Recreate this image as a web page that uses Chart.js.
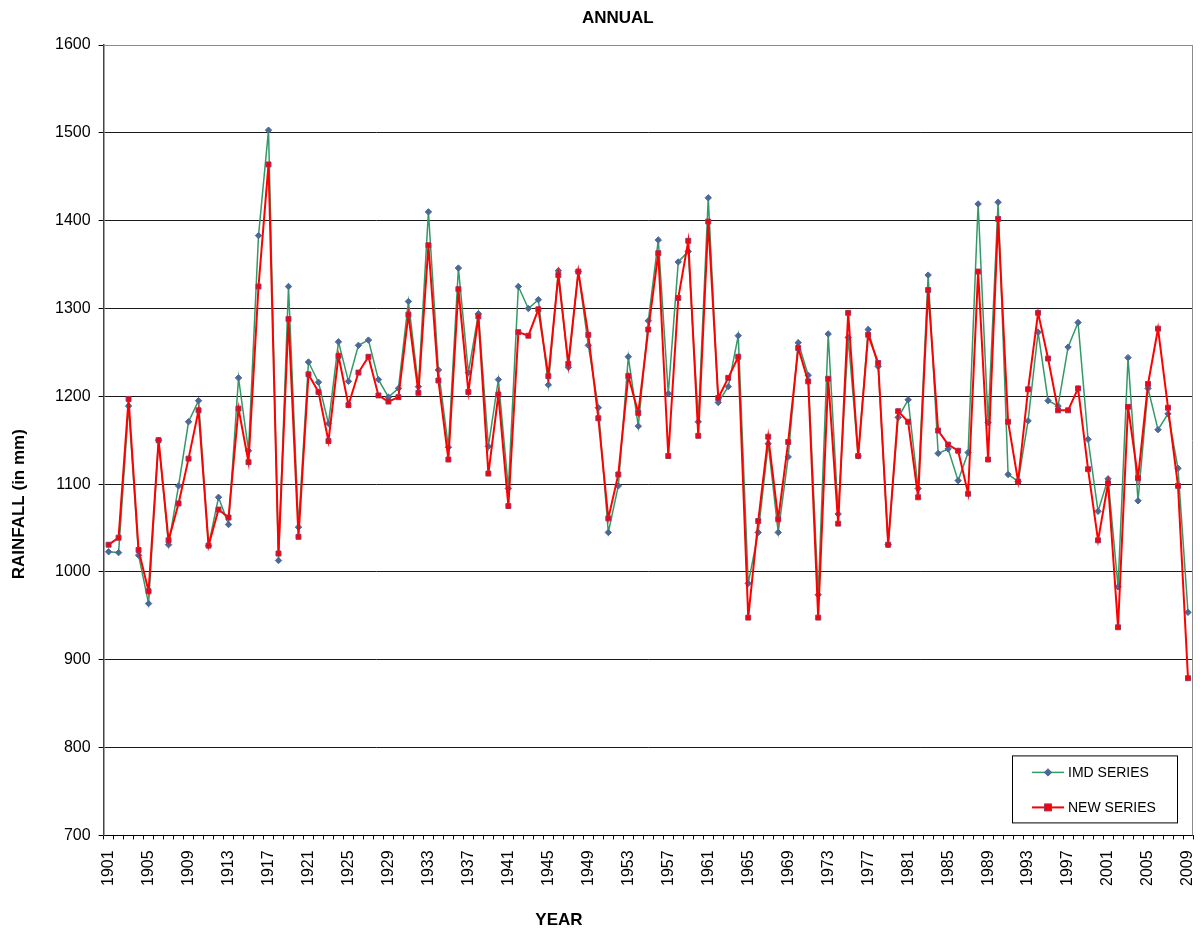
<!DOCTYPE html>
<html>
<head>
<meta charset="utf-8">
<title>Annual rainfall</title>
<script src="https://cdn.jsdelivr.net/npm/chart.js@4.4.1/dist/chart.umd.min.js"></script>
<style>
  html, body { margin: 0; padding: 0; background: #fff; }
  #wrap { position: relative; width: 1200px; height: 934px; }
</style>
</head>
<body>
<div id="wrap"><canvas id="rainChart"></canvas></div>
<script>
/* Annual rainfall, IMD series vs new series */

// ── Data ──────────────────────────────────
const years = [
  1901, 1902, 1903, 1904, 1905, 1906, 1907, 1908, 1909, 1910,
  1911, 1912, 1913, 1914, 1915, 1916, 1917, 1918, 1919, 1920,
  1921, 1922, 1923, 1924, 1925, 1926, 1927, 1928, 1929, 1930,
  1931, 1932, 1933, 1934, 1935, 1936, 1937, 1938, 1939, 1940,
  1941, 1942, 1943, 1944, 1945, 1946, 1947, 1948, 1949, 1950,
  1951, 1952, 1953, 1954, 1955, 1956, 1957, 1958, 1959, 1960,
  1961, 1962, 1963, 1964, 1965, 1966, 1967, 1968, 1969, 1970,
  1971, 1972, 1973, 1974, 1975, 1976, 1977, 1978, 1979, 1980,
  1981, 1982, 1983, 1984, 1985, 1986, 1987, 1988, 1989, 1990,
  1991, 1992, 1993, 1994, 1995, 1996, 1997, 1998, 1999, 2000,
  2001, 2002, 2003, 2004, 2005, 2006, 2007, 2008, 2009
];

const imdSeries = [
  1023, 1022, 1189, 1019,  964, 1150, 1031, 1098, 1171, 1195,
  1030, 1085, 1054, 1221, 1138, 1383, 1503, 1013, 1325, 1051,
  1239, 1216, 1169, 1262, 1217, 1258, 1264, 1219, 1199, 1209,
  1308, 1211, 1410, 1230, 1142, 1346, 1227, 1294, 1143, 1219,
  1095, 1325, 1300, 1310, 1213, 1343, 1233, 1342, 1258, 1187,
  1045, 1098, 1245, 1166, 1286, 1378, 1203, 1353, 1365, 1171,
  1426, 1193, 1211, 1269,  987, 1045, 1146, 1045, 1131, 1261,
  1224,  974, 1271, 1066, 1267, 1132, 1276, 1234, 1031, 1176,
  1196, 1095, 1338, 1135, 1140, 1104, 1136, 1419, 1170, 1421,
  1111, 1103, 1172, 1273, 1195, 1189, 1256, 1284, 1151, 1069,
  1106,  983, 1244, 1081, 1209, 1162, 1180, 1118,  954
];

const newSeries = [
  1031, 1039, 1197, 1025,  978, 1150, 1036, 1078, 1129, 1184,
  1030, 1071, 1062, 1186, 1125, 1325, 1464, 1021, 1288, 1040,
  1225, 1205, 1149, 1246, 1190, 1227, 1245, 1201, 1194, 1199,
  1293, 1204, 1372, 1218, 1128, 1322, 1205, 1291, 1112, 1202,
  1075, 1273, 1269, 1299, 1223, 1338, 1237, 1342, 1270, 1175,
  1061, 1111, 1223, 1181, 1276, 1363, 1132, 1312, 1377, 1155,
  1399, 1198, 1221, 1245,  948, 1058, 1154, 1060, 1148, 1255,
  1217,  948, 1220, 1055, 1295, 1132, 1270, 1238, 1031, 1183,
  1171, 1085, 1321, 1161, 1145, 1138, 1089, 1342, 1128, 1402,
  1171, 1103, 1208, 1295, 1243, 1184, 1184, 1209, 1117, 1036,
  1101,  937, 1188, 1107, 1214, 1277, 1187, 1098,  879
];

const yMin = 700, yMax = 1600, yStep = 100;
const labelEvery = 4;           // show 1901, 1905, ... 2009

const chartTitle = "ANNUAL";
const xTitle     = "YEAR";
const yTitle     = "RAINFALL (in mm)";

const FONT = "'Liberation Sans', Arial, sans-serif";

// ── Plugins ───────────────────────────────
// plot frame (top + right in grey, like the spreadsheet plot area)
const frame = {
  id: "frame",
  beforeDatasetsDraw(chart) {
    const { ctx, chartArea: a } = chart;
    ctx.save();
    ctx.strokeStyle = "#8c8c8c";
    ctx.lineWidth = 1;
    ctx.beginPath();
    ctx.moveTo(a.left, a.top + 0.5);
    ctx.lineTo(a.right - 0.5, a.top + 0.5);
    ctx.lineTo(a.right - 0.5, a.bottom);
    ctx.stroke();
    ctx.restore();
  }
};

// titles placed off-centre like the original
const titles = {
  id: "titles",
  afterDraw(chart) {
    const { ctx, chartArea: a } = chart;
    const w = a.right - a.left, h = a.bottom - a.top;
    ctx.save();
    ctx.fillStyle = "#000";
    ctx.textAlign = "center";
    ctx.textBaseline = "middle";
    ctx.font = "bold 17px " + FONT;
    ctx.fillText(chartTitle, a.left + w * 0.472, a.top - 27);
    ctx.fillText(xTitle, a.left + w * 0.418, chart.height - 14);
    ctx.translate(19, a.top + h * 0.581);
    ctx.rotate(-Math.PI / 2);
    ctx.fillText(yTitle, 0, 0);
    ctx.restore();
  }
};

// boxed legend sitting inside the plot, bottom right
const boxLegend = {
  id: "boxLegend",
  afterDraw(chart) {
    const { ctx, chartArea: a } = chart;
    const bw = 165, bh = 67;
    const bx = a.right - 16 - bw, by = a.bottom - 13 - bh;
    ctx.save();
    ctx.fillStyle = "#fff";
    ctx.fillRect(bx, by, bw, bh);
    ctx.strokeStyle = "#000";
    ctx.lineWidth = 1;
    ctx.strokeRect(bx + 0.5, by + 0.5, bw, bh);

    const rows = [chart.data.datasets[1], chart.data.datasets[0]];
    rows.forEach((ds, i) => {
      const y = by + 17 + i * 35;
      ctx.strokeStyle = ds.borderColor;
      ctx.lineWidth = ds.borderWidth;
      ctx.beginPath();
      ctx.moveTo(bx + 20, y);
      ctx.lineTo(bx + 52, y);
      ctx.stroke();

      const cx = bx + 36;
      ctx.fillStyle = ds.pointBackgroundColor;
      ctx.strokeStyle = ds.pointBorderColor;
      ctx.lineWidth = ds.pointBorderWidth;
      ctx.beginPath();
      if (ds.pointStyle === "rectRot") {
        const r = ds.pointRadius + 0.5;
        ctx.moveTo(cx, y - r); ctx.lineTo(cx + r, y);
        ctx.lineTo(cx, y + r); ctx.lineTo(cx - r, y);
        ctx.closePath();
      } else {
        const r = ds.pointRadius;
        ctx.rect(cx - r, y - r, 2 * r, 2 * r);
      }
      ctx.fill();
      ctx.stroke();

      ctx.fillStyle = "#000";
      ctx.font = "14px " + FONT;
      ctx.textAlign = "left";
      ctx.textBaseline = "middle";
      ctx.fillText(ds.label, bx + 56, y + 1);
    });
    ctx.restore();
  }
};

// ── Chart ─────────────────────────────────
const ctx = document.getElementById("rainChart").getContext("2d");

new Chart(ctx, {
  type: "line",
  data: {
    labels: years,
    datasets: [
      {
        label: "NEW SERIES",
        data: newSeries,
        borderColor: "#ff0000",
        borderWidth: 2,
        pointStyle: "rect",
        pointRadius: 3.5,
        pointBackgroundColor: "#ff0000",
        pointBorderColor: "#993366",
        pointBorderWidth: 1,
        tension: 0,
      },
      {
        label: "IMD SERIES",
        data: imdSeries,
        borderColor: "#339966",
        borderWidth: 1.5,
        pointStyle: "rectRot",
        pointRadius: 3.2,
        pointBackgroundColor: "#4a6898",
        pointBorderColor: "#4a6898",
        pointBorderWidth: 1,
        tension: 0,
      },
    ],
  },
  options: {
    responsive: true,
    maintainAspectRatio: false,
    animation: false,
    devicePixelRatio: 1,
    layout: { padding: { top: 45, left: 47, right: 7, bottom: 37 } },
    plugins: {
      legend:  { display: false },
      title:   { display: false },
      tooltip: { enabled: false },
    },
    scales: {
      x: {
        type: "category",
        offset: true,
        afterFit: s => { s.paddingLeft = 0; s.paddingRight = 0; },
        grid: {
          display: true,
          offset: true,
          drawOnChartArea: false,
          drawTicks: true,
          tickLength: 4,
          tickColor: "#000",
        },
        border: { display: true, color: "#000", width: 1 },
        ticks: {
          autoSkip: false,
          minRotation: 90,
          maxRotation: 90,
          padding: 11,
          color: "#000",
          font: { family: FONT, size: 16 },
          callback: (v, i) => (i % labelEvery === 0 ? years[i] : ""),
        },
      },
      y: {
        min: yMin,
        max: yMax,
        grid: {
          color: c => (c.tick && c.tick.value === yMax ? "#8c8c8c" : "#1a1a1a"),
          lineWidth: 1,
          tickLength: 5,
          tickColor: "#000",
        },
        border: { display: true, color: "#444", width: 1.5 },
        ticks: {
          stepSize: yStep,
          padding: 8,
          color: "#000",
          font: { family: FONT, size: 16 },
          callback: v => String(v),
        },
      },
    },
  },
  plugins: [frame, titles, boxLegend],
});
</script>
</body>
</html>
